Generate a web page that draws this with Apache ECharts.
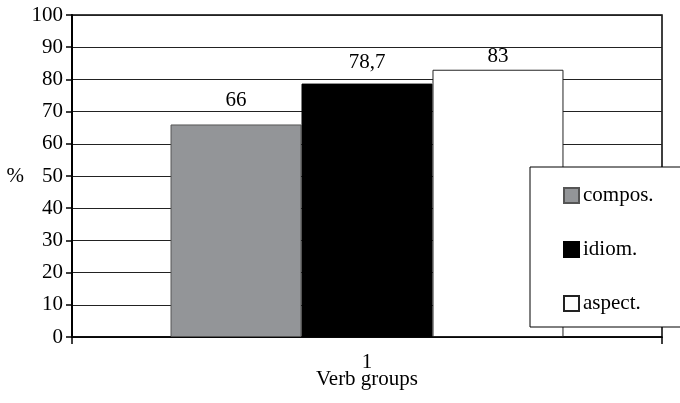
<!DOCTYPE html>
<html>
<head>
<meta charset="utf-8">
<script src="https://cdn.jsdelivr.net/npm/echarts@6/dist/echarts.min.js"></script>
<style>html,body{margin:0;padding:0;background:#fff}#c{width:680px;height:403px}</style>
</head>
<body>
<div id="c"></div>
<script>
const categories = ['1'];
const seriesNames = ['compos.', 'idiom.', 'aspect.'];
const compos = [66];
const idiom = [78.7];
const aspect = [83];
const yTicks = [0, 10, 20, 30, 40, 50, 60, 70, 80, 90, 100];

const FONT = '"Liberation Serif", "Times New Roman", serif';
const FS = 21;
const chart = echarts.init(document.getElementById('c'));
const fmt = p => String(p.value).replace('.', ',');
chart.setOption({
  animation: false,
  textStyle: { fontFamily: FONT, color: '#000' },
  grid: { left: 72, right: 18, top: 15, bottom: 66, show: true, borderColor: '#000', borderWidth: 1.5,
          backgroundColor: 'transparent', containLabel: false, outerBoundsMode: 'none' },
  legend: {
    orient: 'vertical', left: 530, top: 167,
    padding: [18, 40, 13, 33],
    itemGap: 33, itemWidth: 15, itemHeight: 15, icon: 'rect',
    backgroundColor: '#fff', borderColor: '#000', borderWidth: 1,
    textStyle: { fontFamily: FONT, fontSize: FS, color: '#000', padding: [0, 0, 0, -1] },
    data: seriesNames
  },
  xAxis: {
    type: 'category', data: categories,
    name: 'Verb groups', nameLocation: 'middle', nameGap: 32, nameMoveOverlap: false,
    nameTextStyle: { fontFamily: FONT, fontSize: FS, color: '#000' },
    axisLine: { lineStyle: { color: '#000', width: 1.5 } },
    axisTick: { show: true, length: 7, lineStyle: { color: '#000', width: 1.5 } },
    axisLabel: { fontFamily: FONT, fontSize: FS, color: '#000', margin: 15 }
  },
  yAxis: {
    type: 'value', min: yTicks[0], max: yTicks[yTicks.length - 1], interval: 10,
    name: '%', nameLocation: 'middle', nameGap: 48, nameRotate: 0, nameMoveOverlap: false,
    nameTextStyle: { fontFamily: FONT, fontSize: FS, color: '#000' },
    axisLine: { show: true, lineStyle: { color: '#000', width: 2 } },
    axisTick: { show: true, length: 6, lineStyle: { color: '#000', width: 1.5 } },
    axisLabel: { fontFamily: FONT, fontSize: FS, color: '#000', margin: 9 },
    splitLine: { show: true, lineStyle: { color: '#222', width: 1 } }
  },
  series: [
    { name: seriesNames[0], type: 'bar', data: compos, barGap: 0, barCategoryGap: '33.4%',
      itemStyle: { color: '#939598', borderColor: '#555', borderWidth: 1 },
      label: { show: true, position: 'top', distance: 13, fontFamily: FONT, fontSize: FS, color: '#000', formatter: fmt } },
    { name: seriesNames[1], type: 'bar', data: idiom, barGap: 0, barCategoryGap: '33.4%',
      itemStyle: { color: '#000', borderColor: '#000', borderWidth: 1 },
      label: { show: true, position: 'top', distance: 11, fontFamily: FONT, fontSize: FS, color: '#000', formatter: fmt } },
    { name: seriesNames[2], type: 'bar', data: aspect, barGap: 0, barCategoryGap: '33.4%',
      itemStyle: { color: '#fff', borderColor: '#222', borderWidth: 1 },
      label: { show: true, position: 'top', distance: 3, fontFamily: FONT, fontSize: FS, color: '#000', formatter: fmt } }
  ]
});
</script>
</body>
</html>
